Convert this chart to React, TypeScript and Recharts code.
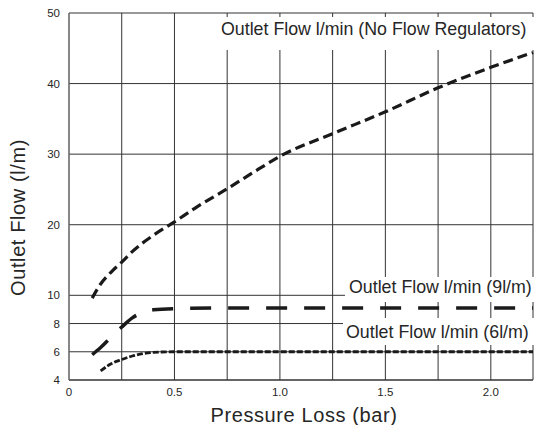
import React from 'react';
import { LineChart, Line, XAxis, YAxis, CartesianGrid } from 'recharts';

// pressure loss (bar) / outlet flow (l/min)
const noFlowP = [0.11, 0.15, 0.2, 0.25, 0.3, 0.4, 0.5, 0.6, 0.75, 0.9, 1.0, 1.25, 1.5, 1.75, 2.0, 2.2];
const noFlowQ = [9.8, 11.6, 13.3, 14.7, 16.2, 18.5, 20.4, 22.4, 25.1, 27.9, 29.7, 32.9, 36.0, 39.4, 42.3, 44.4];

const reg9P = [0.11, 0.15, 0.2, 0.25, 0.3, 0.35, 0.4, 0.5, 0.75, 1.0, 1.5, 2.0, 2.2];
const reg9Q = [5.8, 6.3, 7.05, 7.75, 8.4, 8.8, 8.97, 9.05, 9.1, 9.1, 9.1, 9.1, 9.1];

const reg6P = [0.15, 0.2, 0.25, 0.3, 0.35, 0.4, 0.5, 0.75, 1.0, 1.5, 2.0, 2.2];
const reg6Q = [4.65, 5.15, 5.45, 5.7, 5.87, 5.96, 6.0, 6.0, 6.0, 6.0, 6.0, 6.0];

const xTicks = [0, 0.25, 0.5, 0.75, 1.0, 1.25, 1.5, 1.75, 2.0];
const yTickLabels = [4, 6, 8, 10, 20, 30, 40, 50];

const labelNoFlow = 'Outlet Flow l/min (No Flow Regulators)';
const label9 = 'Outlet Flow l/min (9l/m)';
const label6 = 'Outlet Flow l/min (6l/m)';

// axis is stretched 2x below 10 l/min
const toAxis = (q: number) => (q <= 10 ? (q - 4) * 2 : q + 2);
const fromAxis = (v: number) => (v <= 12 ? v / 2 + 4 : v - 2);

const build = (ps: number[], qs: number[]) => ps.map((p, i) => ({ p, q: toAxis(qs[i]) }));

const noFlowData = build(noFlowP, noFlowQ);
const reg9Data = build(reg9P, reg9Q);
const reg6Data = build(reg6P, reg6Q);

const FONT = '"Liberation Sans", Arial, sans-serif';
const INK = '#262626';

const fmtX = (v: number) => {
  if (v === 0) return '0';
  if (Math.abs(v * 2 - Math.round(v * 2)) < 1e-6) return v.toFixed(1);
  return '';
};

const boxStyle = (left: number, top: number, height: number, padL: number, padT: number): React.CSSProperties => ({
  position: 'absolute',
  left,
  top,
  width: 534 - left,
  height,
  background: '#fff',
  paddingLeft: padL,
  paddingTop: padT,
  boxSizing: 'border-box',
  whiteSpace: 'nowrap',
  overflow: 'hidden',
  fontFamily: FONT,
  fontSize: 17.8,
  lineHeight: '20px',
  color: INK,
});

export default function App() {
  return (
    <div style={{ position: 'absolute', left: 0, top: 0, width: 534, height: 425, overflow: 'hidden', background: '#fff' }}>
      <LineChart width={534} height={425} margin={{ top: 13, right: 1, bottom: 0, left: 0 }}>
        <CartesianGrid stroke="#333" strokeWidth={1} />
        <XAxis
          type="number"
          dataKey="p"
          domain={[0, 2.2]}
          ticks={xTicks}
          tickFormatter={fmtX}
          interval={0}
          height={45}
          axisLine={{ stroke: '#333' }}
          tickLine={false}
          tick={{ fontSize: 11.5, fill: INK, fontFamily: FONT }}
          label={{
            value: 'Pressure Loss (bar)',
            position: 'insideBottom',
            offset: 3,
            dx: 3,
            style: { fontSize: 20, letterSpacing: 0.6, fill: INK, fontFamily: FONT },
          }}
        />
        <YAxis
          type="number"
          domain={[0, 52]}
          ticks={yTickLabels.map(toAxis)}
          tickFormatter={(v: number) => String(Math.round(fromAxis(v)))}
          interval={0}
          width={69}
          axisLine={{ stroke: '#777' }}
          tickLine={false}
          tickSize={6}
          tickMargin={3}
          tick={{ fontSize: 11.5, fill: INK, fontFamily: FONT }}
          label={{
            value: 'Outlet Flow (l/m)',
            angle: -90,
            position: 'center',
            dx: -17,
            dy: 21,
            style: { fontSize: 20, letterSpacing: 0.6, fill: INK, fontFamily: FONT },
          }}
        />
        <Line
          data={noFlowData}
          dataKey="q"
          type="monotone"
          stroke="#1a1a1a"
          strokeWidth={3.2}
          strokeDasharray="10 5"
          dot={false}
          isAnimationActive={false}
        />
        <Line
          data={reg9Data}
          dataKey="q"
          type="monotone"
          stroke="#1a1a1a"
          strokeWidth={3.5}
          strokeDasharray="21 17"
          dot={false}
          isAnimationActive={false}
        />
        <Line
          data={reg6Data}
          dataKey="q"
          type="monotone"
          stroke="#1a1a1a"
          strokeWidth={2.8}
          strokeDasharray="6 2"
          dot={false}
          isAnimationActive={false}
        />
      </LineChart>

      <div style={boxStyle(213, 17, 33, 8, 2.3)}>{labelNoFlow}</div>
      <div style={boxStyle(345, 277, 25, 4, 0)}>{label9}</div>
      <div style={boxStyle(343, 318, 27, 3, 3.5)}>{label6}</div>
    </div>
  );
}
